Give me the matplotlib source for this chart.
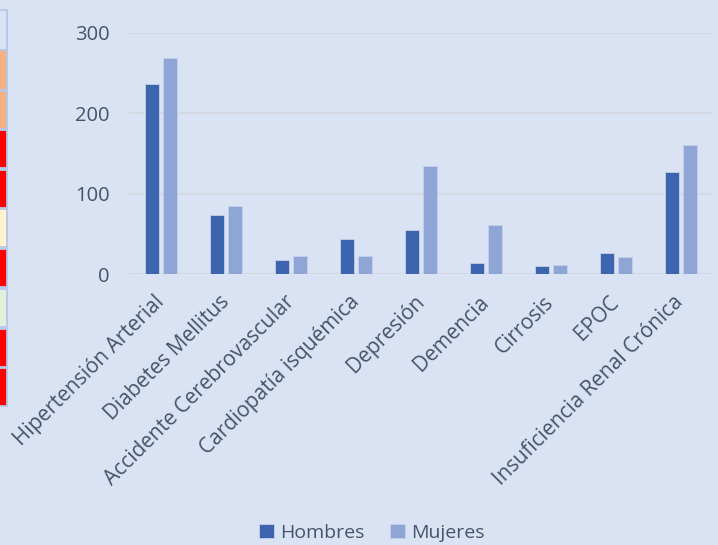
import matplotlib
matplotlib.use("Agg")
import matplotlib.pyplot as plt
import numpy as np
from matplotlib.patches import Rectangle

categories = ["Hipertensión Arterial", "Diabetes Mellitus", "Accidente Cerebrovascular",
              "Cardiopatía isquémica", "Depresión", "Demencia", "Cirrosis", "EPOC",
              "Insuficiencia Renal Crónica"]
hombres = [236, 73, 17, 43, 55, 14, 10, 26, 127]
mujeres = [269, 85, 23, 23, 135, 61, 11, 21, 161]
yticks = [0, 100, 200, 300]

BG = "#dae3f3"
C_H = "#3d64ae"
C_M = "#8fa5d6"
TXT = "#44546a"

plt.rcParams['font.family'] = ['Open Sans', 'DejaVu Sans']

fig = plt.figure(figsize=(7.18, 5.45), dpi=100, facecolor=BG)
W, H = 718, 545
ax = fig.add_axes([129 / W, 1 - 274 / H, (713 - 129) / W, (274 - 33) / H])
ax.set_facecolor(BG)

x = np.arange(len(categories))
bw = 0.216
gap = 0.03
ax.bar(x - bw / 2 - gap, hombres, bw, color=C_H, edgecolor="#c5d1ea", linewidth=0.6, label="Hombres", zorder=3)
ax.bar(x + bw / 2 + gap, mujeres, bw, color=C_M, edgecolor="#c5d1ea", linewidth=0.6, label="Mujeres", zorder=3)

ax.set_xlim(-0.5, len(categories) - 0.5)
ax.set_ylim(0, 300)
ax.set_yticks(yticks)
ax.set_yticklabels([str(v) for v in yticks], fontsize=14.5, color=TXT)
ax.yaxis.grid(True, color="#d4d8e0", linewidth=1.5, zorder=0)
ax.set_axisbelow(True)
for s in ax.spines.values():
    s.set_visible(False)
ax.tick_params(axis='both', length=0)
ax.tick_params(axis='y', pad=14)
ax.set_xticks(x)
ax.set_xticklabels(categories, rotation=45, ha='right', va='center', rotation_mode='anchor',
                   fontsize=15, color=TXT)
ax.tick_params(axis='x', pad=18)

leg = fig.legend(loc='center', bbox_to_anchor=(372 / W, 1 - 533 / H), ncol=2, frameon=False,
                 fontsize=14, handlelength=0.75, handleheight=0.75, handletextpad=0.35,
                 columnspacing=1.3, labelcolor=TXT)

# Left-edge table cells visible behind the chart
cells = [(10, 50, BG), (50, 90, "#f4b183"), (91, 129, "#f4b183"), (130, 168, "#ff0000"),
         (170, 208, "#ff0000"), (209, 247, "#fff2cc"), (249, 287, "#ff0000"),
         (289, 327, "#e2efda"), (329, 367, "#ff0000"), (368, 406, "#ff0000")]
for y0, y1, c in cells:
    fig.patches.append(Rectangle((-2 / W, 1 - y1 / H), 8.5 / W, (y1 - y0) / H, transform=fig.transFigure,
                                 facecolor=c, edgecolor="#b4c7e7", linewidth=1.3, zorder=1))

fig.savefig("out.png", dpi=100, facecolor=BG)
